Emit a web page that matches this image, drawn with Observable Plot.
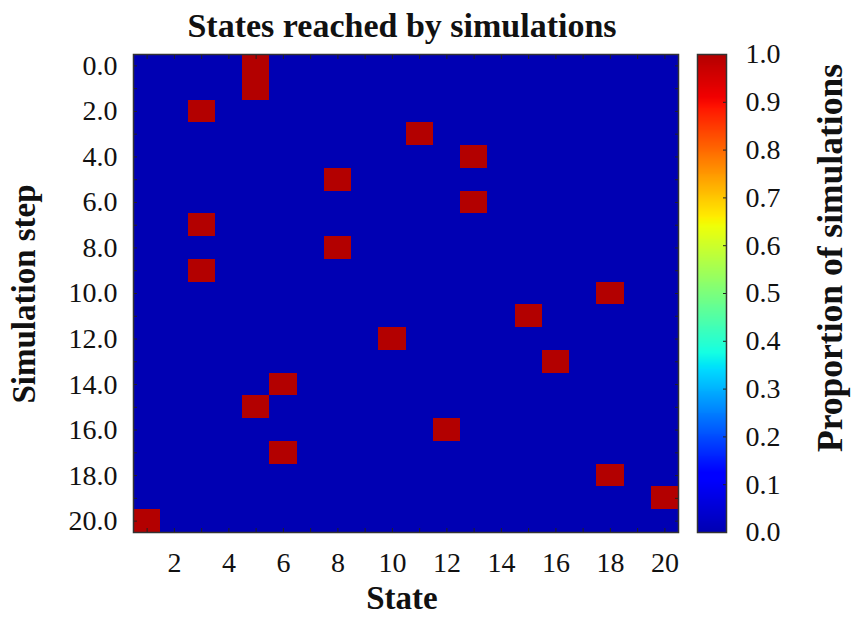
<!DOCTYPE html>
<html>
<head>
<meta charset="utf-8">
<script src="https://cdn.jsdelivr.net/npm/d3@7"></script>
<script src="https://cdn.jsdelivr.net/npm/@observablehq/plot@0.6"></script>
<style>
  html, body { margin: 0; padding: 0; background: #fff; }
  #chart { position: relative; width: 854px; height: 617px; background: #fff; overflow: hidden; }
  #chart svg { position: absolute; top: 0; }
</style>
</head>
<body>
<div id="chart"></div>
<script>
// ---- Data ----
const states = [1, 2, 3, 4, 5, 6, 7, 8, 9, 10, 11, 12, 13, 14, 15, 16, 17, 18, 19, 20];
const steps = [0, 1, 2, 3, 4, 5, 6, 7, 8, 9, 10, 11, 12, 13, 14, 15, 16, 17, 18, 19, 20];
// state reached at each simulation step (one per step)
const reachedState = [5, 5, 3, 11, 13, 8, 13, 3, 8, 3, 18, 15, 10, 16, 6, 5, 12, 6, 18, 20, 1];
const reachedProportion = [1, 1, 1, 1, 1, 1, 1, 1, 1, 1, 1, 1, 1, 1, 1, 1, 1, 1, 1, 1, 1];
const xTickLabels = [2, 4, 6, 8, 10, 12, 14, 16, 18, 20];
const yTickLabels = [0, 2, 4, 6, 8, 10, 12, 14, 16, 18, 20];
const colorbarTicks = [0, 0.1, 0.2, 0.3, 0.4, 0.5, 0.6, 0.7, 0.8, 0.9, 1.0];

// ---- jet colormap ----
const jetR = [[0, 0], [0.35, 0], [0.66, 1], [0.89, 1], [1, 0.7]];
const jetG = [[0, 0], [0.125, 0], [0.375, 1], [0.64, 1], [0.91, 0], [1, 0]];
const jetB = [[0, 0.7], [0.11, 1], [0.34, 1], [0.65, 0], [1, 0]];
function pw(pts, t) {
  t = Math.max(0, Math.min(1, t));
  for (let i = 1; i < pts.length; i++) {
    if (t <= pts[i][0]) {
      const [x0, y0] = pts[i - 1], [x1, y1] = pts[i];
      return y0 + (y1 - y0) * (t - x0) / (x1 - x0);
    }
  }
  return pts[pts.length - 1][1];
}
const jet = t => d3.rgb(255 * pw(jetR, t), 255 * pw(jetG, t), 255 * pw(jetB, t)).formatHex();

const grid = steps.flatMap((step, i) =>
  states.map(state => ({ step, state, value: reachedState[i] === state ? reachedProportion[i] : 0 }))
);

const FONT = "'Liberation Serif', 'Times New Roman', Times, serif";
const colorScale = { type: "linear", domain: [0, 1], interpolate: jet };
const TK = 4;

const main = Plot.plot({
  width: 690, height: 617,
  marginTop: 54, marginBottom: 85, marginLeft: 133, marginRight: 12,
  x: { type: "band", domain: states, padding: 0, round: false },
  y: { type: "band", domain: steps, padding: 0, round: false },
  color: colorScale,
  style: { fontFamily: FONT, fontSize: "28px", color: "#000", background: "transparent", overflow: "visible" },
  marks: [
    Plot.cell(grid, { x: "state", y: "step", fill: "value", shapeRendering: "crispEdges" }),
    Plot.axisX({ anchor: "bottom", tickSize: TK, dy: -TK, tickFormat: () => "", label: null, stroke: "#222" }),
    Plot.axisX({ anchor: "top", tickSize: TK, dy: TK, tickFormat: () => "", label: null, stroke: "#222" }),
    Plot.axisY({ anchor: "left", tickSize: TK, dx: TK, tickFormat: () => "", label: null, stroke: "#222" }),
    Plot.axisY({ anchor: "right", tickSize: TK, dx: -TK, tickFormat: () => "", label: null, stroke: "#222" }),
    Plot.axisX(xTickLabels, { anchor: "bottom", tickSize: 0, tickPadding: 20, label: null, fill: "#111" }),
    Plot.axisY(yTickLabels, { anchor: "left", tickSize: 0, tickPadding: 16, tickFormat: d => d.toFixed(1), label: null, fill: "#111" }),
    Plot.frame({ stroke: "#333", strokeWidth: 1.5 })
  ]
});
main.style.left = "0px";

const gradient = d3.range(0, 1, 0.002).map(v => ({ y1: v, y2: v + 0.0025, v: v + 0.001 }));
const bar = Plot.plot({
  width: 164, height: 617,
  marginTop: 54, marginBottom: 85, marginLeft: 7, marginRight: 128,
  y: { domain: [0, 1] },
  color: colorScale,
  style: { fontFamily: FONT, fontSize: "28px", color: "#000", background: "transparent", overflow: "visible" },
  marks: [
    Plot.rect(gradient, { y1: "y1", y2: "y2", fill: "v", shapeRendering: "crispEdges" }),
    Plot.axisY(colorbarTicks, { anchor: "right", tickSize: TK, dx: -TK, tickFormat: () => "", label: null, stroke: "#222" }),
    Plot.axisY(colorbarTicks, { anchor: "right", tickSize: 0, tickPadding: 19, tickFormat: d => d.toFixed(1), label: null, fill: "#111" }),
    Plot.frame({ stroke: "#333", strokeWidth: 1.5 })
  ]
});
bar.style.left = "690px";

const chart = document.getElementById("chart");
chart.appendChild(main);
chart.appendChild(bar);

// ---- Titles ----
const overlay = d3.create("svg")
  .attr("width", 854).attr("height", 617)
  .style("left", "0px").style("pointer-events", "none")
  .style("font-family", FONT).style("font-weight", "bold").attr("fill", "#111");
overlay.append("text").attr("x", 402).attr("y", 37).attr("text-anchor", "middle")
  .style("font-size", "34px").text("States reached by simulations");
overlay.append("text").attr("x", 402).attr("y", 609).attr("text-anchor", "middle")
  .style("font-size", "33px").text("State");
overlay.append("text").attr("transform", "translate(35,294) rotate(-90)").attr("text-anchor", "middle")
  .style("font-size", "33px").text("Simulation step");
overlay.append("text").attr("transform", "translate(842,258) rotate(-90)").attr("text-anchor", "middle")
  .style("font-size", "35.5px").text("Proportion of simulations");
chart.appendChild(overlay.node());
</script>
</body>
</html>
